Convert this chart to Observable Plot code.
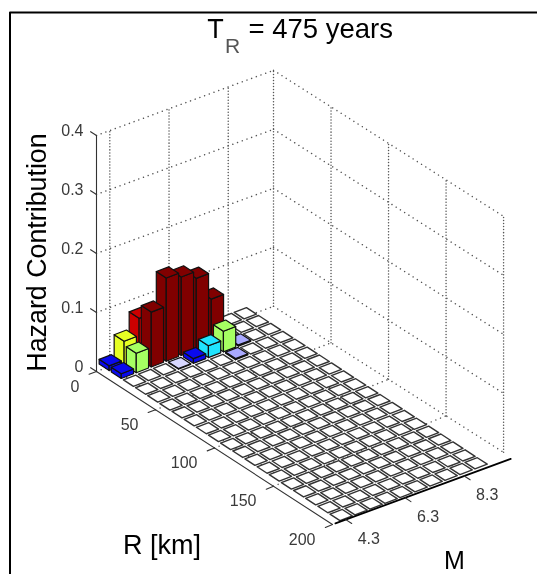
<!DOCTYPE html>
<html><head><meta charset="utf-8">
<script src="https://cdn.jsdelivr.net/npm/d3@7"></script>
<script src="https://cdn.jsdelivr.net/npm/@observablehq/plot@0.6"></script>
<style>html,body{margin:0;padding:0;background:#fff}svg{display:block;filter:blur(0.55px)}</style>
</head><body><div id="chart"></div>
<script>
const distanceBins = [5,15,25,35,45,55,65,75,85,95,105,115,125,135,145,155,165,175,185,195];
const magnitudeBins = [4.2,4.7,5.2,5.7,6.2,6.7,7.2,7.7,8.2,8.7];
const hitDistance = [5,5,5,15,15,15,15,15,15,15,25,25,25,25,25,35];
const hitMagnitude = [4.2,4.7,5.2,4.2,4.7,5.2,5.7,6.2,6.7,7.2,5.7,6.2,6.7,7.2,7.7,7.2];
const hitValue = [0.008,0.04,0.069,0.008,0.033,0.093,0.141,0.133,0.121,0.076,0.001,0.008,0.02,0.035,0.002,0.002];
const zTicks = [0,0.1,0.2,0.3,0.4];
const rTicks = [0,50,100,150,200];
const mTicks = [4.3,6.3,8.3];

const Rmax = 200, Mmin = 3.85, Mmax = 9.83, Zmax = 0.4;
const W = 537, H = 574;
// oblique view of the (R, M, z) box, with a slight narrowing towards high M
function view(R, M, z = 0) {
  const dM = M - Mmin;
  return {
    x: 96 + 1.18 * R * (1 - 0.0042 * dM) + 29.6 * dM,
    y: 371 + 0.765 * R * (1 - 0.0076 * dM) - 10.9 * dM - 590 * z
  };
}
// the front M axis runs straight, without the narrowing
function front(M, extra = 0) {
  const dM = M - Mmin;
  return {
    x: 96 + 1.18 * (Rmax + extra) + 29.6 * dM,
    y: 371 + 0.765 * (Rmax + extra) - 10.9 * dM
  };
}
// the bars stand on a floor that is a little nearer than the walls
function barView(R, M, z = 0) {
  const dM = M - Mmin;
  return {x: 96 + 1.215 * R + 30 * dM, y: 371 + 0.79 * R - 11.5 * dM - 590 * z};
}
const hw = 4.1, hm = 0.205, shiftR = -6, shiftM = 0.15;
const floorFaces = [], barFaces = [];
let fid = 0;
function face(list, corners, value) {
  fid++;
  for (const c of [...corners, corners[0]]) list.push({id: fid, value, ...barView(c[0], c[1], c[2])});
}
const bars = [];
for (const R of distanceBins) for (const M of magnitudeBins) {
  let v = 0;
  hitDistance.forEach((r, i) => { if (r === R && hitMagnitude[i] === M) v = hitValue[i]; });
  bars.push({R, M, v});
}
bars.sort((a, b) => a.R - b.R || b.M - a.M);
for (const {R, M, v} of bars) {
  const r0 = R + shiftR - hw, r1 = R + shiftR + hw, m0 = M + shiftM - hm, m1 = M + shiftM + hm;
  if (v > 0) {
    face(barFaces, [[r0, m0, 0], [r1, m0, 0], [r1, m0, v], [r0, m0, v]], v);
    face(barFaces, [[r1, m0, 0], [r1, m1, 0], [r1, m1, v], [r1, m0, v]], v);
    face(barFaces, [[r0, m0, v], [r1, m0, v], [r1, m1, v], [r0, m1, v]], v);
  } else {
    face(floorFaces, [[r0, m0, 0], [r1, m0, 0], [r1, m1, 0], [r0, m1, 0]], 0);
  }
}
const dottedDiag = [], dottedVert = [];
let lid = 0;
function seg(list, a, b) { lid++; list.push({id: lid, ...view(...a)}, {id: lid, ...view(...b)}); }
for (const z of zTicks) {
  seg(dottedDiag, [0, Mmin, z], [0, Mmax, z]);
  seg(dottedDiag, [0, Mmax, z], [Rmax, Mmax, z]);
}
for (const m of mTicks) seg(dottedVert, [0, m, 0], [0, m, Zmax]);
for (const r of [50, 100, 150, 200]) seg(dottedVert, [r, Mmax, 0], [r, Mmax, Zmax]);
seg(dottedVert, [0, Mmax, 0], [0, Mmax, Zmax]);
for (const m of mTicks) seg(dottedDiag, [0, m, 0], [Rmax, m, 0]);
for (const r of [50, 100, 150]) seg(dottedDiag, [r, Mmin, 0], [r, Mmax, 0]);

const solid = [];
let sid = 0;
function sol(a, b) { sid++; solid.push({id: sid, ...view(...a)}, {id: sid, ...view(...b)}); }
sol([0, Mmin, 0], [0, Mmin, Zmax]);
for (const z of zTicks) sol([0, Mmin, z], [-5, Mmin, z]);
sol([0, Mmin, 0], [Rmax, Mmin, 0]);
for (const r of rTicks) sol([r, Mmin, 0], [r, Mmin - 0.25, 0]);
const mAxis = [{id: 0, ...front(Mmin + 0.1)}, {id: 0, ...front(Mmax + 0.04)}];
const mStubs = [];
mTicks.forEach((m, i) => { mStubs.push({id: i, ...front(m)}, {id: i, ...front(m, 5)}); });

const tickFont = {fontFamily: "Liberation Sans, Arial, sans-serif", fontSize: 16, fill: "#3a3a3a"};
const labelFont = {fontFamily: "Liberation Sans, Arial, sans-serif", fontSize: 27, fill: "#000"};
const zLab = zTicks.map(z => ({t: z === 0 ? "0" : z.toFixed(1), ...view(0, Mmin, z)}));
const rLab = rTicks.map(r => ({t: String(r), ...view(r, Mmin, 0)}));
const mLab = mTicks.map(m => ({t: m.toFixed(1), ...front(m)}));

const chart = Plot.plot({
  width: W, height: H, margin: 0,
  style: {background: "#fff", overflow: "hidden"},
  x: {type: "linear", domain: [0, W], range: [0, W], axis: null},
  y: {type: "linear", domain: [0, H], range: [0, H], axis: null},
  color: {type: "threshold",
    domain: [0.0001, 0.0015, 0.004, 0.015, 0.03, 0.038, 0.06, 0.072],
    range: ["#ffffff", "#d8d8ff", "#aaaaff", "#0a0aee", "#20e4ff", "#a6ff62", "#e6ff24", "#cc0000", "#800000"]},
  marks: [
    Plot.line([{x: 9.5, y: 580}, {x: 9.5, y: 12}, {x: 540, y: 12}], {x: "x", y: "y", stroke: "#000", strokeWidth: 2}),
    Plot.line(dottedDiag, {x: "x", y: "y", z: "id", stroke: "#555", strokeWidth: 1.5, strokeLinecap: "round", strokeDasharray: "0.01 5"}),
    Plot.line(dottedVert, {x: "x", y: "y", z: "id", stroke: "#555", strokeWidth: 1.5, strokeLinecap: "round", strokeDasharray: "0.01 3"}),
    Plot.line(solid, {x: "x", y: "y", z: "id", stroke: "#333", strokeWidth: 1.1}),
    Plot.line(floorFaces, {x: "x", y: "y", z: "id", fill: "value", stroke: "#333", strokeWidth: 1.4}),
    Plot.line(barFaces, {x: "x", y: "y", z: "id", fill: "value", stroke: "#111", strokeWidth: 1.2}),
    Plot.line(mAxis, {x: "x", y: "y", z: "id", stroke: "#000", strokeWidth: 1.8}),
    Plot.line(mStubs, {x: "x", y: "y", z: "id", stroke: "#333", strokeWidth: 1.1}),
    Plot.text(zLab, {x: "x", y: "y", text: "t", dx: -13, dy: -5, textAnchor: "end", ...tickFont}),
    Plot.text(rLab, {x: "x", y: "y", text: "t", dx: -17, dy: 15, textAnchor: "end", ...tickFont}),
    Plot.text(mLab, {x: "x", y: "y", text: "t", dx: 23, dy: 19, textAnchor: "middle", ...tickFont}),
    Plot.text(["T"], {x: [215], y: [29], text: d => d, ...labelFont}),
    Plot.text(["R"], {x: [232], y: [46], text: d => d, ...labelFont, fontSize: 21, fill: "#555"}),
    Plot.text(["= 475 years"], {x: [248], y: [29], text: d => d, textAnchor: "start", ...labelFont, fontSize: 27.5}),
    Plot.text(["Hazard Contribution"], {x: [36.5], y: [252], text: d => d, rotate: -90, ...labelFont, fontSize: 26.8}),
    Plot.text(["R [km]"], {x: [161.5], y: [544.5], text: d => d, ...labelFont}),
    Plot.text(["M"], {x: [454], y: [560], text: d => d, ...labelFont, fontSize: 25})
  ]
});
document.getElementById("chart").append(chart);
</script></body></html>
